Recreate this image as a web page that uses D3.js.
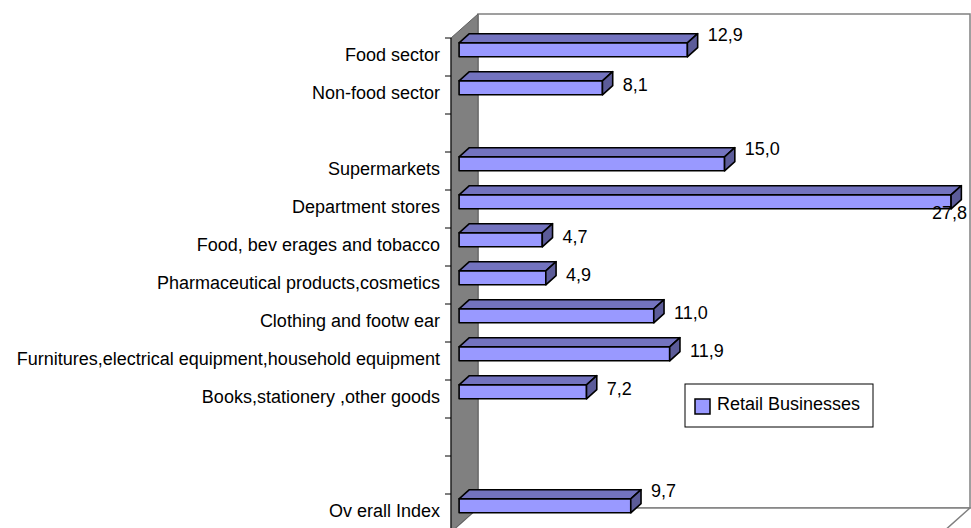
<!DOCTYPE html>
<html lang="en">
<head>
    <meta charset="UTF-8">
    <title>Retail Businesses</title>
    <style>
        body { margin: 0; background: #ffffff; }
        text { font-family: "Liberation Sans", Arial, sans-serif; fill: #000000; font-size: 18px; }
    </style>
    <script src="https://d3js.org/d3.v7.min.js"></script>
</head>
<body>
<script>
// chart data (blank rows are empty slots on the axis)
const categories = ["Food sector", "Non-food sector", "", "Supermarkets", "Department stores",
    "Food, bev erages and tobacco", "Pharmaceutical products,cosmetics", "Clothing and footw ear",
    "Furnitures,electrical equipment,household equipment", "Books,stationery ,other goods", "", "", "Ov erall Index"];
const values = [12.9, 8.1, null, 15.0, 27.8, 4.7, 4.9, 11.0, 11.9, 7.2, null, null, 9.7];
const seriesName = "Retail Businesses";

var width = 971, height = 528;
var svg = d3.select("body").append("svg")
    .attr("width", width)
    .attr("height", height);

// front plane of the 3d box (note: "top" is taken by window.top)
var plotLeft = 451, plotRight = 943, plotTop = 38, plotBottom = 532;
var depth = [27, -24];   // shift from front plane to back wall
var barT0 = 0.3, barT1 = 0.68, barHalf = 7;

var x = d3.scaleLinear().domain([0, d3.max(values)]).range([plotLeft, plotRight]);
var y = d3.scaleBand().domain(d3.range(categories.length)).range([plotTop, plotBottom]);

function proj(px, py, t) {
    return [px + depth[0] * t, py + depth[1] * t];
}
function poly(pts) {
    return pts.map(p => p.join(",")).join(" ");
}

var fmt = d3.formatLocale({decimal: ",", thousands: ".", grouping: [3], currency: ["", ""]}).format(".1f");

// back wall
var bw0 = proj(plotLeft, plotTop, 1), bw1 = proj(plotRight, plotBottom, 1);
svg.append("rect")
    .attr("x", bw0[0]).attr("y", bw0[1])
    .attr("width", bw1[0] - bw0[0]).attr("height", bw1[1] - bw0[1])
    .attr("fill", "#ffffff").attr("stroke", "#808080").attr("stroke-width", 1.5);

// floor
svg.append("polygon")
    .attr("points", poly([proj(plotLeft, plotBottom, 0), proj(plotRight, plotBottom, 0), proj(plotRight, plotBottom, 1), proj(plotLeft, plotBottom, 1)]))
    .attr("fill", "#ffffff").attr("stroke", "#808080").attr("stroke-width", 1.5);

// left wall
svg.append("polygon")
    .attr("points", poly([proj(plotLeft, plotTop, 0), proj(plotLeft, plotTop, 1), proj(plotLeft, plotBottom, 1), proj(plotLeft, plotBottom, 0)]))
    .attr("fill", "#808080").attr("stroke", "#606060").attr("stroke-width", 1);

// bars
var rows = values.map((v, i) => ({i: i, v: v})).filter(d => d.v != null);

var bars = svg.selectAll(".bar").data(rows).enter().append("g").attr("class", "bar");

bars.append("polygon")  // front face
    .attr("points", d => {
        var c = y(d.i) + y.bandwidth() / 2;
        return poly([proj(x(0), c - barHalf, barT0), proj(x(d.v), c - barHalf, barT0),
            proj(x(d.v), c + barHalf, barT0), proj(x(0), c + barHalf, barT0)]);
    })
    .attr("fill", "#9999ff").attr("stroke", "#000").attr("stroke-width", 1.6).attr("stroke-linejoin", "round");

bars.append("polygon")  // top face
    .attr("points", d => {
        var c = y(d.i) + y.bandwidth() / 2;
        return poly([proj(x(0), c - barHalf, barT0), proj(x(d.v), c - barHalf, barT0),
            proj(x(d.v), c - barHalf, barT1), proj(x(0), c - barHalf, barT1)]);
    })
    .attr("fill", "#7373bf").attr("stroke", "#000").attr("stroke-width", 1.6).attr("stroke-linejoin", "round");

bars.append("polygon")  // end face
    .attr("points", d => {
        var c = y(d.i) + y.bandwidth() / 2;
        return poly([proj(x(d.v), c - barHalf, barT0), proj(x(d.v), c - barHalf, barT1),
            proj(x(d.v), c + barHalf, barT1), proj(x(d.v), c + barHalf, barT0)]);
    })
    .attr("fill", "#5c5c99").attr("stroke", "#000").attr("stroke-width", 1.6).attr("stroke-linejoin", "round");

// category axis line + ticks
svg.append("line")
    .attr("x1", plotLeft).attr("x2", plotLeft).attr("y1", plotTop).attr("y2", plotBottom)
    .attr("stroke", "#000").attr("stroke-width", 1);

svg.selectAll(".tick").data(d3.range(categories.length + 1)).enter().append("line")
    .attr("class", "tick")
    .attr("x1", plotLeft - 6).attr("x2", plotLeft)
    .attr("y1", i => plotTop + i * y.step()).attr("y2", i => plotTop + i * y.step())
    .attr("stroke", "#000").attr("stroke-width", 1);

svg.selectAll(".cat").data(categories).enter().append("text")
    .attr("class", "cat")
    .attr("x", plotLeft - 11)
    .attr("y", (d, i) => y(i) + y.bandwidth() / 2 - 2)
    .attr("dy", "0.35em")
    .attr("text-anchor", "end")
    .text(d => d);

// value labels, raised when the slot above is empty, moved inside when too long
var wallRight = proj(plotRight, 0, 1)[0];
svg.selectAll(".val").data(rows).enter().append("text")
    .attr("class", "val")
    .attr("dy", "0.35em")
    .each(function(d) {
        var c = y(d.i) + y.bandwidth() / 2 + depth[1] * barT0;
        var end = proj(x(d.v), 0, barT1)[0];
        var el = d3.select(this).text(fmt(d.v));
        if (end + 10 + 40 > wallRight) {
            el.attr("x", wallRight - 3).attr("y", c + 11).attr("text-anchor", "end");
        } else {
            var above = d.i == 0 || values[d.i - 1] == null;
            el.attr("x", end + 10).attr("y", above ? c - 15 : c - 3);
        }
    });

// legend
var legend = svg.append("g").attr("transform", "translate(685,384)");
legend.append("rect")
    .attr("width", 188).attr("height", 43)
    .attr("fill", "#fff").attr("stroke", "#000").attr("stroke-width", 1);
legend.append("rect")
    .attr("x", 10).attr("y", 15).attr("width", 15).attr("height", 15)
    .attr("fill", "#9999ff").attr("stroke", "#000").attr("stroke-width", 1.5);
legend.append("text")
    .attr("x", 32).attr("y", 20).attr("dy", "0.35em")
    .text(seriesName);
</script>
</body>
</html>
